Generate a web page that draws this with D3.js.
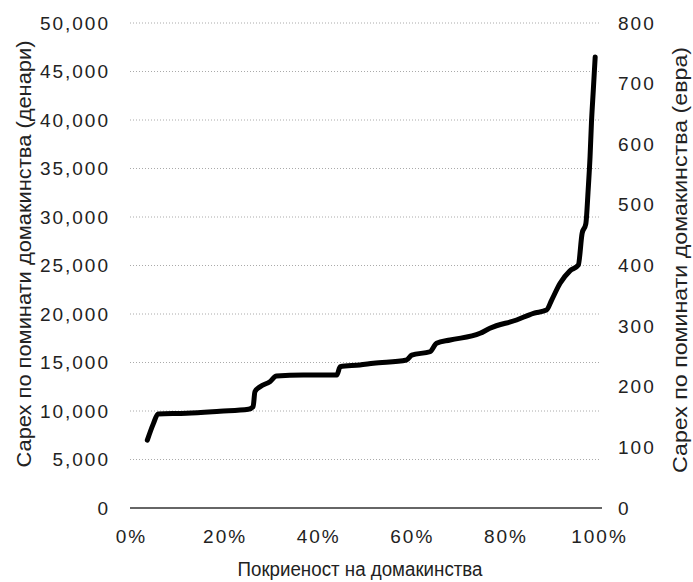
<!DOCTYPE html>
<html>
<head>
<meta charset="utf-8">
<script src="https://cdn.jsdelivr.net/npm/d3@7"></script>
<style>
  body { margin: 0; background: #fff; }
  text { font-family: "Liberation Sans", Arial, sans-serif; fill: #222; }
</style>
</head>
<body>
<svg></svg>
<script>
const width = 693;
const height = 582;

// coverage of households (%) and spending per household (denars)
const coverage = [3.7, 5.0, 6.0, 12.1, 19.2, 25.3, 26.3, 26.7, 27.8, 29.9, 31.3, 37.0, 44.2, 44.9, 49.1,
    52.0, 59.1, 60.2, 64.1, 65.5, 68.4, 74.8, 76.9, 82.6, 86.2, 89.0, 90.1, 91.9, 94.0, 95.8,
    96.6, 97.4, 97.9, 98.3, 98.6, 99.0, 99.4];
const spending = [7000, 8700, 9700, 9760, 9970, 10180, 10440, 11990, 12500, 13020, 13610, 13710, 13710, 14570, 14740,
    14920, 15260, 15770, 16110, 16980, 17320, 18010, 18530, 19380, 20070, 20410, 21440, 23170, 24450, 25050,
    28300, 29300, 32800, 36200, 39700, 43100, 46500];

const leftTicks = [0, 5000, 10000, 15000, 20000, 25000, 30000, 35000, 40000, 45000, 50000];
const rightTicks = [0, 100, 200, 300, 400, 500, 600, 700, 800];
const xTicks = [0, 20, 40, 60, 80, 100];

const leftTitle = "Сарех по поминати домакинства (денари)";
const rightTitle = "Сарех по поминати домакинства (евра)";
const xTitle = "Покриеност на домакинства";

const svg = d3.select("svg")
    .attr("width", width)
    .attr("height", height);

const x = d3.scaleLinear().domain([0, 100]).range([130, 598]);
const y = d3.scaleLinear().domain([0, 50000]).range([508, 23]);
const yR = d3.scaleLinear().domain([0, 800]).range([508, 23]);

// gridlines
svg.append("g")
    .selectAll("line")
    .data(leftTicks.filter(d => d > 0))
    .enter().append("line")
    .attr("x1", 130)
    .attr("x2", 600)
    .attr("y1", d => y(d))
    .attr("y2", d => y(d))
    .attr("stroke", "#aaa")
    .attr("stroke-width", 1)
    .attr("stroke-dasharray", "1,2");

// left axis
const leftAxis = svg.append("g")
    .attr("transform", "translate(110,0)")
    .call(d3.axisLeft(y).tickValues(leftTicks).tickSize(0).tickPadding(0)
        .tickFormat(d3.format(",")));
leftAxis.select(".domain").remove();

// right axis
const rightAxis = svg.append("g")
    .attr("transform", "translate(618,0)")
    .call(d3.axisRight(yR).tickValues(rightTicks).tickSize(0).tickPadding(0));
rightAxis.select(".domain").remove();

// bottom axis
const bottomAxis = svg.append("g")
    .attr("transform", "translate(1,529)")
    .call(d3.axisBottom(x).tickValues(xTicks).tickSize(0).tickPadding(0)
        .tickFormat(d => d + "%"));
bottomAxis.select(".domain").remove();

svg.selectAll(".tick text")
    .style("font-size", "19px")
    .style("letter-spacing", "2px")
    .attr("fill", "#222");

// zero line
svg.append("line")
    .attr("x1", 130)
    .attr("x2", 602)
    .attr("y1", y(0))
    .attr("y2", y(0))
    .attr("stroke", "#333")
    .attr("stroke-width", 1.5);

// curve
const points = coverage.map((c, i) => [c, spending[i]]);
svg.append("path")
    .datum(points)
    .attr("fill", "none")
    .attr("stroke", "#000")
    .attr("stroke-width", 5)
    .attr("stroke-linejoin", "round")
    .attr("stroke-linecap", "round")
    .attr("d", d3.line()
        .x(d => x(d[0]))
        .y(d => y(d[1]))
        .curve(d3.curveMonotoneX));

// titles
svg.append("text")
    .attr("transform", "translate(31,254) rotate(-90)")
    .attr("text-anchor", "middle")
    .attr("textLength", 427)
    .attr("lengthAdjust", "spacingAndGlyphs")
    .style("font-size", "20px")
    .text(leftTitle);

svg.append("text")
    .attr("transform", "translate(687,260) rotate(-90)")
    .attr("text-anchor", "middle")
    .attr("textLength", 426)
    .attr("lengthAdjust", "spacingAndGlyphs")
    .style("font-size", "20px")
    .text(rightTitle);

svg.append("text")
    .attr("x", 360)
    .attr("y", 576)
    .attr("text-anchor", "middle")
    .attr("textLength", 245)
    .attr("lengthAdjust", "spacingAndGlyphs")
    .style("font-size", "20px")
    .text(xTitle);
</script>
</body>
</html>
